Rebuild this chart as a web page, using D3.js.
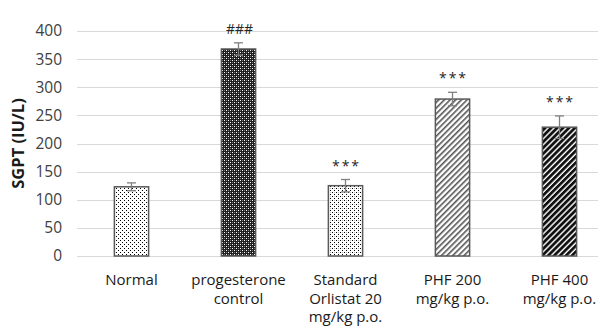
<!DOCTYPE html>
<html>
<head>
<meta charset="utf-8">
<script src="https://cdn.jsdelivr.net/npm/d3@7"></script>
<style>
  body { margin: 0; background: #fff; }
  text { font-family: "Open Sans", "Noto Sans", sans-serif; }
</style>
</head>
<body>
<div id="chart"></div>
<script>
// chart values
var groups = ['Normal', 'progesterone control', 'Standard Orlistat 20 mg/kg p.o.', 'PHF 200 mg/kg p.o.', 'PHF 400 mg/kg p.o.'];
var groupLines = [['Normal'], ['progesterone', 'control'], ['Standard', 'Orlistat 20', 'mg/kg p.o.'], ['PHF 200', 'mg/kg p.o.'], ['PHF 400', 'mg/kg p.o.']];
var sgpt = [123, 368, 125, 279, 229];
var sem = [7, 11, 11, 12, 20];
var marks = ['', '###', '***', '***', '***'];
var yTicks = [0, 50, 100, 150, 200, 250, 300, 350, 400];
var patternIds = ['dotsLight', 'checkDark', 'dotsMed', 'diagLight', 'diagDark'];

var width = 600, height = 331;

var svg = d3.select('#chart').append('svg')
    .attr('width', width)
    .attr('height', height);

// fill patterns, roughly like Excel's
var defs = svg.append('defs');

var p1 = defs.append('pattern').attr('id', 'dotsLight')
    .attr('patternUnits', 'userSpaceOnUse').attr('width', 4).attr('height', 4);
p1.append('rect').attr('width', 4).attr('height', 4).attr('fill', '#fff');
p1.append('rect').attr('x', 0).attr('y', 0).attr('width', 1).attr('height', 1).attr('fill', '#000');
p1.append('rect').attr('x', 2).attr('y', 2).attr('width', 1).attr('height', 1).attr('fill', '#000');

var p2 = defs.append('pattern').attr('id', 'checkDark')
    .attr('patternUnits', 'userSpaceOnUse').attr('width', 4).attr('height', 4);
p2.append('rect').attr('width', 4).attr('height', 4).attr('fill', '#1f1f1f');
p2.append('rect').attr('x', 0).attr('y', 0).attr('width', 1).attr('height', 1).attr('fill', '#fff');
p2.append('rect').attr('x', 2).attr('y', 2).attr('width', 1).attr('height', 1).attr('fill', '#fff');
p2.append('rect').attr('x', 2).attr('y', 0).attr('width', 1).attr('height', 1).attr('fill', '#777');
p2.append('rect').attr('x', 0).attr('y', 2).attr('width', 1).attr('height', 1).attr('fill', '#777');

var p3 = defs.append('pattern').attr('id', 'dotsMed')
    .attr('patternUnits', 'userSpaceOnUse').attr('width', 4).attr('height', 4);
p3.append('rect').attr('width', 4).attr('height', 4).attr('fill', '#fff');
p3.append('rect').attr('x', 0).attr('y', 0).attr('width', 1).attr('height', 1).attr('fill', '#000');
p3.append('rect').attr('x', 2).attr('y', 2).attr('width', 1).attr('height', 1).attr('fill', '#000');
p3.append('rect').attr('x', 2).attr('y', 0).attr('width', 1).attr('height', 1).attr('fill', '#bbb');

var p4 = defs.append('pattern').attr('id', 'diagLight')
    .attr('patternUnits', 'userSpaceOnUse').attr('width', 4).attr('height', 4)
    .attr('patternTransform', 'rotate(45)');
p4.append('rect').attr('width', 4).attr('height', 4).attr('fill', '#fff');
p4.append('rect').attr('width', 1.6).attr('height', 4).attr('fill', '#555');

var p5 = defs.append('pattern').attr('id', 'diagDark')
    .attr('patternUnits', 'userSpaceOnUse').attr('width', 4.2).attr('height', 4.2)
    .attr('patternTransform', 'rotate(45)');
p5.append('rect').attr('width', 4.2).attr('height', 4.2).attr('fill', '#fff');
p5.append('rect').attr('width', 2.8).attr('height', 4.2).attr('fill', '#111');

var x = d3.scaleBand()
    .domain(groups)
    .range([78, 613])
    .paddingInner(0.68)
    .paddingOuter(0.34);

var y = d3.scaleLinear()
    .domain([0, 400])
    .range([256, 31]);

// gridlines
svg.append('g')
    .selectAll('line')
    .data(yTicks)
    .enter().append('line')
    .attr('x1', 77)
    .attr('x2', 598)
    .attr('y1', function (d) { return Math.round(y(d)) + 0.5; })
    .attr('y2', function (d) { return Math.round(y(d)) + 0.5; })
    .attr('stroke', '#d9d9d9')
    .attr('stroke-width', 1);

// y axis labels
var yAxis = d3.axisLeft(y).tickValues(yTicks).tickSize(0).tickPadding(0);
var yg = svg.append('g')
    .attr('transform', 'translate(62,0)')
    .call(yAxis);
yg.select('.domain').remove();
yg.selectAll('text')
    .attr('fill', '#404040')
    .style('font-size', '15.5px')
    .style('font-family', '"Open Sans", sans-serif');

svg.append('text')
    .attr('transform', 'translate(24,' + ((y(0) + y(400)) / 2) + ') rotate(-90)')
    .attr('text-anchor', 'middle')
    .attr('fill', '#1a1a1a')
    .style('font-size', '16.5px')
    .style('font-weight', 'bold')
    .text('SGPT (IU/L)');

// bars
svg.append('g')
    .selectAll('rect')
    .data(groups)
    .enter().append('rect')
    .attr('x', function (d) { return x(d); })
    .attr('y', function (d, i) { return y(sgpt[i]); })
    .attr('width', x.bandwidth())
    .attr('height', function (d, i) { return y(0) - y(sgpt[i]); })
    .attr('fill', function (d, i) { return 'url(#' + patternIds[i] + ')'; })
    .attr('stroke', '#595959')
    .attr('stroke-width', 1.5);

// error bars
var eb = svg.append('g')
    .selectAll('g')
    .data(groups)
    .enter().append('g')
    .attr('stroke', '#808080')
    .attr('stroke-width', 1.3);

eb.append('line')
    .attr('x1', function (d) { return x(d) + x.bandwidth() / 2; })
    .attr('x2', function (d) { return x(d) + x.bandwidth() / 2; })
    .attr('y1', function (d, i) { return y(sgpt[i] - sem[i]); })
    .attr('y2', function (d, i) { return y(sgpt[i] + sem[i]); });

eb.append('line')
    .attr('x1', function (d) { return x(d) + x.bandwidth() / 2 - 4.5; })
    .attr('x2', function (d) { return x(d) + x.bandwidth() / 2 + 4.5; })
    .attr('y1', function (d, i) { return y(sgpt[i] + sem[i]); })
    .attr('y2', function (d, i) { return y(sgpt[i] + sem[i]); });

eb.append('line')
    .attr('x1', function (d) { return x(d) + x.bandwidth() / 2 - 4.5; })
    .attr('x2', function (d) { return x(d) + x.bandwidth() / 2 + 4.5; })
    .attr('y1', function (d, i) { return y(sgpt[i] - sem[i]); })
    .attr('y2', function (d, i) { return y(sgpt[i] - sem[i]); });

// significance marks
svg.append('g')
    .selectAll('text')
    .data(groups)
    .enter().append('text')
    .attr('x', function (d) { return x(d) + x.bandwidth() / 2 + 1; })
    .attr('y', function (d, i) { return y(sgpt[i] + sem[i]) - 9; })
    .attr('text-anchor', 'middle')
    .attr('fill', '#262626')
    .style('font-size', '14px')
    .style('letter-spacing', function (d, i) { return marks[i] == '###' ? '0px' : '2px'; })
    .text(function (d, i) { return marks[i]; });

// category labels
var cats = svg.append('g')
    .selectAll('text')
    .data(groups)
    .enter().append('text')
    .attr('text-anchor', 'middle')
    .attr('fill', '#1a1a1a')
    .style('font-size', '15px')
    .attr('transform', function (d) { return 'translate(' + (x(d) + x.bandwidth() / 2) + ',285)'; });

cats.selectAll('tspan')
    .data(function (d, i) { return groupLines[i]; })
    .enter().append('tspan')
    .attr('x', 0)
    .attr('y', function (d, j) { return j * 18.5; })
    .text(function (d) { return d; });
</script>
</body>
</html>
